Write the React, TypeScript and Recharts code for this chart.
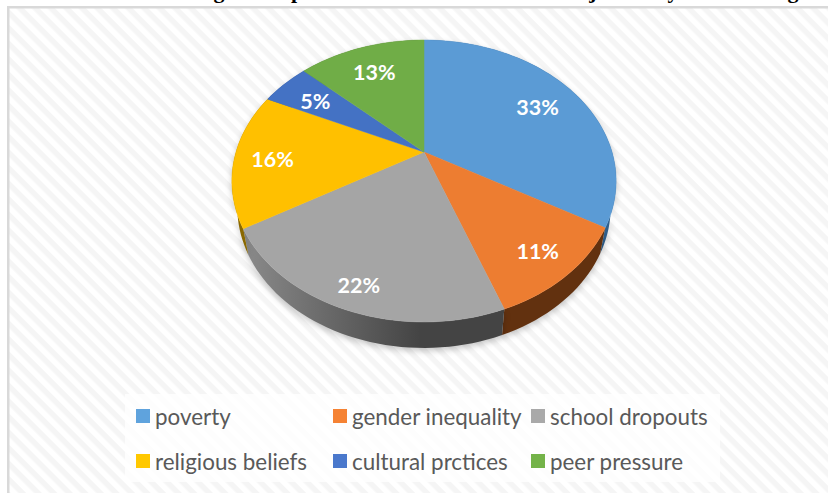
import React from "react";
import { PieChart, Pie, Cell, Legend } from "recharts";

const categories = ["poverty", "gender inequality", "school dropouts", "religious beliefs", "cultural prctices", "peer pressure"];
const shares = [33.4, 11, 22.1, 15.5, 5, 13];
const topColors = ["#5B9BD5", "#ED7D31", "#A5A5A5", "#FFC000", "#4472C4", "#70AD47"];
const wallColors = ["#2F5F8C", "#62310F", "url(#grayWall)", "#8A6800", "#27437A", "#3F6627"];
const legendColors = ["#5FA3DD", "#F58233", "#A9A9A9", "#FFC800", "#4A78CC", "#74B349"];
const titleGlyphs = ["g", "p", "j", "y", "g"];

const data = categories.map((name, i) => ({ name, value: shares[i] }));

// perspective projection of the pie disc
const TILT = 0.2057;
const RX = 188;
const RY = 135;
const DEPTH = 26;
const WALL_SHRINK = 0.972;
const LABEL_REACH = [0.75, 0.82, 0.86, 0.8, 0.76, 0.76];

function project(angleDeg: number, r: number) {
  const t = ((90 - angleDeg) * Math.PI) / 180;
  const u = r * Math.sin(t);
  const v = -r * Math.cos(t);
  const w = 1 - TILT * v;
  return { x: (RX * u) / w, y: (RY * v) / w };
}

function arcAngles(a: number, b: number) {
  const steps = Math.max(4, Math.ceil(Math.abs(b - a) / 2));
  return Array.from({ length: steps + 1 }, (_, i) => a + ((b - a) * i) / steps);
}

function TopFace(props: any) {
  const { cx, cy, startAngle, endAngle, fill } = props;
  const pts = arcAngles(startAngle, endAngle).map((a) => project(a, 1));
  const d = `M${cx},${cy} ` + pts.map((p) => `L${cx + p.x},${cy + p.y}`).join(" ") + " Z";
  return <path d={d} fill={fill} stroke={fill} strokeWidth={0.5} />;
}

function WallFace(props: any) {
  const { cx, cy, startAngle, endAngle, fill } = props;
  const angles = arcAngles(startAngle, endAngle);
  const upper = angles.map((a) => project(a, 1)).map((p) => `${cx + p.x},${cy + p.y}`);
  const lower = angles
    .map((a) => project(a, 1))
    .map((p) => `${cx + p.x * WALL_SHRINK},${cy + p.y + DEPTH}`)
    .reverse();
  return (
    <path
      d={`M${upper.join(" L")} L${lower.join(" L")} Z`}
      fill={fill}
      style={{ filter: "drop-shadow(0px 3px 3px rgba(0,0,0,0.22))" }}
    />
  );
}

function PercentLabel(props: any) {
  const { cx, cy, midAngle, index, value } = props;
  const p = project(midAngle, LABEL_REACH[index]);
  return (
    <text
      x={cx + p.x}
      y={cy + p.y + 2}
      fill="#FFFFFF"
      textAnchor="middle"
      dominantBaseline="central"
      style={{ fontFamily: "Lato, sans-serif", fontWeight: 700, fontSize: 21.5 }}
    >
      {`${Math.round(value)}%`}
    </text>
  );
}

function LegendPanel() {
  const columns = [136, 333, 531];
  const rows = [405, 450];
  return (
    <div style={{ position: "absolute", left: 0, top: 0, width: 828, height: 493 }}>
      {categories.map((name, i) => (
        <div key={name} style={{ position: "absolute", left: columns[i % 3], top: rows[Math.floor(i / 3)], height: 22, display: "flex", alignItems: "center", whiteSpace: "nowrap" }}>
          <span style={{ width: 14, height: 14, marginRight: 5, background: legendColors[i], display: "inline-block" }} />
          <span style={{ fontFamily: "Lato, sans-serif", fontSize: 22.4, color: "#595959" }}>{name}</span>
        </div>
      ))}
    </div>
  );
}

export default function App() {
  return (
    <div style={{ position: "absolute", left: 0, top: 0, width: 828, height: 493, overflow: "hidden", background: "#fff" }}>
      <svg width={828} height={493} style={{ position: "absolute", left: 0, top: 0 }}>
        <defs>
          <pattern id="stripes" width={11} height={11} patternUnits="userSpaceOnUse" patternTransform="rotate(45 0 0)">
            <rect width={11} height={5.5} fill="#F5F5F5" />
          </pattern>
        </defs>
        <rect x={8} y={7} width={820} height={486} fill="url(#stripes)" />
        <rect x={7} y={6} width={821} height={2.5} fill="#D9D9D9" />
        <rect x={7} y={6} width={2.5} height={487} fill="#D9D9D9" />
        <rect x={125} y={394} width={595} height={88} fill="#FFFFFF" fillOpacity={0.75} />
        {titleGlyphs.map((g, i) => (
          <text key={i} x={[219, 297, 593, 673, 793][i]} y={-2} textAnchor="middle" style={{ fontFamily: "Liberation Serif, serif", fontWeight: 700, fontSize: 22, fill: "#000" }}>
            {g}
          </text>
        ))}
      </svg>
      <div style={{ position: "absolute", left: 0, top: 0 }}>
        <PieChart width={828} height={493} margin={{ top: 0, right: 0, bottom: 0, left: 0 }}>
          <defs>
            <linearGradient id="grayWall" gradientUnits="userSpaceOnUse" x1={240} y1={0} x2={420} y2={0}>
              <stop offset="0" stopColor="#8C8C8C" />
              <stop offset="1" stopColor="#444444" />
            </linearGradient>
          </defs>
          <Pie
            data={data}
            dataKey="value"
            nameKey="name"
            cx={424}
            cy={152}
            outerRadius={188}
            startAngle={90}
            endAngle={-270}
            legendType="none"
            isAnimationActive={false}
            shape={WallFace}
            stroke="none"
          >
            {data.map((d, i) => (
              <Cell key={d.name} fill={wallColors[i]} />
            ))}
          </Pie>
          <Pie
            data={data}
            dataKey="value"
            nameKey="name"
            cx={424}
            cy={152}
            outerRadius={188}
            startAngle={90}
            endAngle={-270}
            isAnimationActive={false}
            shape={TopFace}
            stroke="none"
            labelLine={false}
            label={PercentLabel}
          >
            {data.map((d, i) => (
              <Cell key={d.name} fill={topColors[i]} />
            ))}
          </Pie>
          <Legend content={<LegendPanel />} wrapperStyle={{ left: 0, top: 0, bottom: "auto", width: 828, height: 493, pointerEvents: "none" }} />
        </PieChart>
      </div>
    </div>
  );
}
